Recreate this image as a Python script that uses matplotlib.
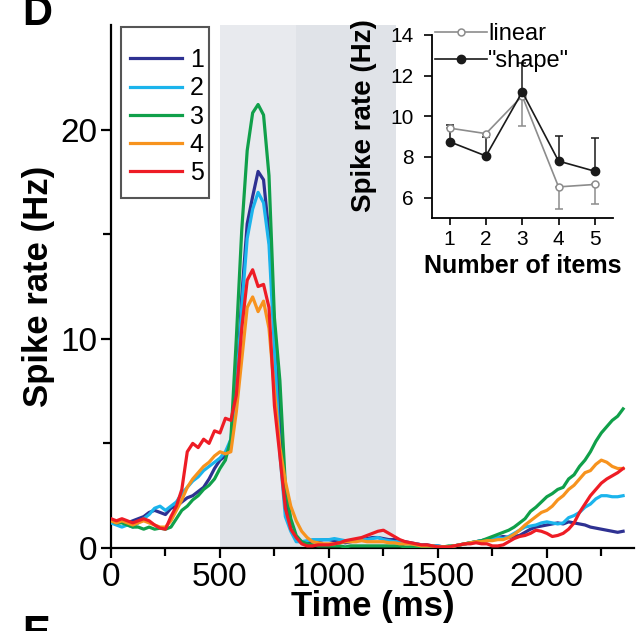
import numpy as np
import matplotlib
matplotlib.use("Agg")
import matplotlib.pyplot as plt
from matplotlib.ticker import FixedLocator
from matplotlib.patches import Rectangle

plt.rcParams['font.family'] = ['Liberation Sans', 'DejaVu Sans']

# ---- main panel data: spike rate (Hz), sampled every 25 ms from 0 to 2350 ms
time_ms = np.arange(0, 2351, 25)

rate_1 = [1.3, 1.2, 1.3, 1.2, 1.3, 1.4, 1.5, 1.7, 1.8, 1.7,
          1.6, 1.9, 2.0, 2.2, 2.4, 2.5, 2.7, 2.9, 3.3, 3.8,
          4.2, 4.4, 5.0, 7.5, 12.0, 15.5, 16.8, 18.0, 17.6, 15.0,
          10.5, 6.2, 2.5, 0.9, 0.4, 0.3, 0.3, 0.3, 0.35, 0.4,
          0.4, 0.35, 0.3, 0.25, 0.3, 0.35, 0.4, 0.45, 0.5, 0.5,
          0.45, 0.4, 0.4, 0.35, 0.3, 0.25, 0.2, 0.15, 0.15, 0.1,
          0.1, 0.05, 0.05, 0.1, 0.15, 0.2, 0.25, 0.3, 0.35, 0.4,
          0.45, 0.5, 0.55, 0.5, 0.55, 0.6, 0.75, 0.9, 1.0, 1.05,
          1.1, 1.15, 1.2, 1.15, 1.25, 1.2, 1.15, 1.1, 1.0, 0.95,
          0.9, 0.85, 0.8, 0.75, 0.8]
rate_2 = [1.2, 1.1, 1.0, 1.1, 1.0, 1.2, 1.4, 1.6, 1.9, 2.0,
          1.8, 2.0, 2.2, 2.6, 2.9, 3.2, 3.4, 3.7, 3.9, 4.1,
          4.3, 4.6, 5.2, 7.5, 11.5, 14.8, 16.2, 17.0, 16.5, 14.5,
          9.5, 4.5, 1.5, 0.8, 0.3, 0.3, 0.35, 0.4, 0.4, 0.4,
          0.4, 0.45, 0.4, 0.35, 0.35, 0.4, 0.45, 0.4, 0.45, 0.5,
          0.4, 0.35, 0.3, 0.3, 0.25, 0.2, 0.2, 0.15, 0.1, 0.1,
          0.1, 0.05, 0.05, 0.1, 0.15, 0.2, 0.25, 0.3, 0.35, 0.4,
          0.45, 0.5, 0.45, 0.55, 0.7, 0.85, 1.0, 1.05, 1.1, 1.2,
          1.25, 1.2, 1.15, 1.2, 1.45, 1.55, 1.7, 1.95, 2.1, 2.35,
          2.5, 2.5, 2.45, 2.45, 2.5]
rate_3 = [1.3, 1.2, 1.2, 1.1, 1.0, 1.0, 0.9, 1.0, 0.9, 0.95,
          0.9, 1.0, 1.4, 1.8, 2.0, 2.3, 2.5, 2.8, 3.0, 3.3,
          3.8, 4.2, 5.2, 10.0, 15.2, 19.0, 20.8, 21.2, 20.7, 17.8,
          11.0, 8.0, 3.0, 1.4, 0.6, 0.3, 0.2, 0.15, 0.1, 0.1,
          0.1, 0.1, 0.1, 0.05, 0.1, 0.1, 0.1, 0.1, 0.1, 0.1,
          0.1, 0.1, 0.1, 0.1, 0.05, 0.05, 0.05, 0.05, 0.05, 0.05,
          0.05, 0.05, 0.1, 0.1, 0.15, 0.2, 0.25, 0.3, 0.35, 0.45,
          0.55, 0.65, 0.75, 0.85, 1.0, 1.2, 1.4, 1.75, 1.95, 2.2,
          2.45, 2.6, 2.8, 2.9, 3.3, 3.5, 3.9, 4.2, 4.6, 5.1,
          5.5, 5.8, 6.1, 6.3, 6.65]
rate_4 = [1.3, 1.2, 1.3, 1.2, 1.1, 1.2, 1.3, 1.2, 1.1, 1.0,
          1.0, 1.3, 1.8, 2.3, 2.9, 3.3, 3.6, 3.9, 4.1, 4.4,
          4.6, 4.5, 4.6, 6.5, 9.0, 11.5, 12.0, 11.3, 11.8, 10.5,
          7.5, 4.8, 3.2, 2.0, 1.3, 0.8, 0.5, 0.3, 0.25, 0.2,
          0.2, 0.2, 0.25, 0.3, 0.3, 0.3, 0.35, 0.3, 0.3, 0.3,
          0.3, 0.25, 0.25, 0.2, 0.2, 0.2, 0.15, 0.1, 0.1, 0.1,
          0.05, 0.05, 0.05, 0.1, 0.15, 0.2, 0.25, 0.3, 0.3, 0.35,
          0.35, 0.4, 0.4, 0.5, 0.65, 0.85, 1.1, 1.3, 1.5, 1.7,
          1.8, 2.0, 2.3, 2.5, 2.8, 3.0, 3.3, 3.6, 3.7, 4.0,
          4.2, 4.1, 3.9, 3.8, 3.8]
rate_5 = [1.4, 1.3, 1.4, 1.3, 1.2, 1.3, 1.4, 1.3, 1.1, 0.95,
          0.9, 1.5, 2.0, 2.8, 4.6, 5.0, 4.8, 5.2, 5.0, 5.6,
          5.5, 6.2, 6.1, 7.3, 10.5, 12.8, 13.3, 12.5, 12.6, 11.5,
          6.8, 4.4, 1.9, 0.9, 0.5, 0.2, 0.1, 0.1, 0.15, 0.15,
          0.15, 0.2, 0.25, 0.35, 0.4, 0.45, 0.5, 0.6, 0.7, 0.8,
          0.85, 0.7, 0.55, 0.4, 0.3, 0.25, 0.2, 0.15, 0.15, 0.1,
          0.05, 0.05, 0.05, 0.1, 0.15, 0.2, 0.2, 0.25, 0.2, 0.2,
          0.1, 0.1, 0.15, 0.3, 0.45, 0.55, 0.6, 0.7, 0.85, 0.8,
          0.7, 0.55, 0.6, 0.7, 0.9, 1.2, 1.7, 2.1, 2.5, 2.8,
          3.1, 3.3, 3.45, 3.6, 3.8]

series_names = ["1", "2", "3", "4", "5"]
series_colors = ["#2e3192", "#1bb4ec", "#10a04a", "#f7931e", "#ee1c25"]

# ---- inset data
n_items = [1, 2, 3, 4, 5]
linear_rate = [9.42, 9.15, 11.0, 6.53, 6.65]
linear_err_low = [0.0, 0.0, 1.5, 1.1, 0.95]
shape_rate = [8.75, 8.05, 11.2, 7.8, 7.3]
shape_err_high = [0.8, 0.95, 1.4, 1.25, 1.65]

W, H = 637, 631
fig = plt.figure(figsize=(W / 100, H / 100), dpi=100)

ax = fig.add_axes([111 / W, 1 - 548 / H, 523 / W, 523 / H])
ax.axvspan(500, 1310, color="#e0e3e8", lw=0, zorder=0)
ax.axvspan(500, 850, ymin=2.3 / 25, color="#e8eaee", lw=0, zorder=0)

all_rates = [rate_1, rate_2, rate_3, rate_4, rate_5]
for name, col, vals in zip(series_names, series_colors, all_rates):
    ax.plot(time_ms, vals, color=col, lw=2.3, label=name, zorder=3)

ax.set_xlim(0, 2400)
ax.set_ylim(0, 25)
ax.xaxis.set_major_locator(FixedLocator([0, 500, 1000, 1500, 2000]))
ax.xaxis.set_minor_locator(FixedLocator([250, 750, 1250, 1750, 2250]))
ax.yaxis.set_major_locator(FixedLocator([0, 10, 20]))
ax.yaxis.set_minor_locator(FixedLocator([5, 15]))
for s in ["top", "right"]:
    ax.spines[s].set_visible(False)
for s in ["left", "bottom"]:
    ax.spines[s].set_linewidth(1.6)
ax.tick_params(which="major", direction="out", length=7, width=1.6,
               labelsize=24, pad=3)
ax.tick_params(which="minor", direction="out", length=6, width=1.6)
ax.tick_params(axis="x", which="major", pad=3)
ax.set_xlabel("Time (ms)", fontsize=25, fontweight="bold", labelpad=-2)
ax.set_ylabel("Spike rate (Hz)", fontsize=25, fontweight="bold", labelpad=4)

# legend box drawn as its own frame, entries placed inside it
ax.add_patch(Rectangle((0.019, 0.669), 0.168, 0.327, transform=ax.transAxes,
                       facecolor="white", edgecolor="#555555", lw=1.5,
                       zorder=4, clip_on=False))
leg = ax.legend(loc="upper left", bbox_to_anchor=(0.036, 0.956),
                borderaxespad=0, fontsize=18, handlelength=2.1,
                handletextpad=0.3, labelspacing=0.17, borderpad=0,
                frameon=False)
leg.set_zorder(5)

# ---- inset
ins = fig.add_axes([431.5 / W, 1 - 218 / H, 181.5 / W, 183 / H])
ins.set_facecolor("none")
ins.errorbar(n_items, linear_rate, yerr=[linear_err_low, [0] * 5], fmt="none",
             ecolor="#8c8c8c", elinewidth=1.1, capsize=3, capthick=1.1, zorder=2)
ins.errorbar(n_items, shape_rate, yerr=[[0] * 5, shape_err_high], fmt="none",
             ecolor="#1a1a1a", elinewidth=1.1, capsize=3, capthick=1.1, zorder=2)
ins.plot(n_items, linear_rate, "-o", color="#8c8c8c", lw=1.2, ms=5,
         mfc="white", mec="#8c8c8c", mew=1.1, label="linear", zorder=3)
ins.plot(n_items, shape_rate, "-o", color="#1a1a1a", lw=1.2, ms=6,
         mfc="#1a1a1a", mec="#1a1a1a", label='"shape"', zorder=4)
ins.set_xlim(0.5, 5.5)
ins.set_ylim(5, 14)
ins.set_xticks(n_items)
ins.set_yticks([6, 8, 10, 12, 14])
for s in ["top", "right"]:
    ins.spines[s].set_visible(False)
for s in ["left", "bottom"]:
    ins.spines[s].set_linewidth(1.3)
ins.tick_params(direction="out", length=5, width=1.2, labelsize=15, pad=4)
ins.tick_params(axis="y", length=6, pad=7)
ins.set_xlabel("Number of items", fontsize=18, fontweight="bold", labelpad=3)
ins.set_ylabel("Spike rate (Hz)", fontsize=20, fontweight="bold")
ins.yaxis.set_label_coords(-0.30, 0.56)
ins.legend(loc="upper left", bbox_to_anchor=(0.02, 1.065), borderaxespad=0,
           frameon=False, fontsize=17, handlelength=2.2, handletextpad=0.05,
           labelspacing=0.2, borderpad=0)

# panel letters (cut off by the figure edge, as in the source)
fig.text(22 / W, 1 - 25 / H, "D", fontsize=30, fontweight="bold", va="baseline")
fig.text(22 / W, 1 - 645 / H, "E", fontsize=30, fontweight="bold", va="baseline")

fig.savefig("out.png", dpi=100)
